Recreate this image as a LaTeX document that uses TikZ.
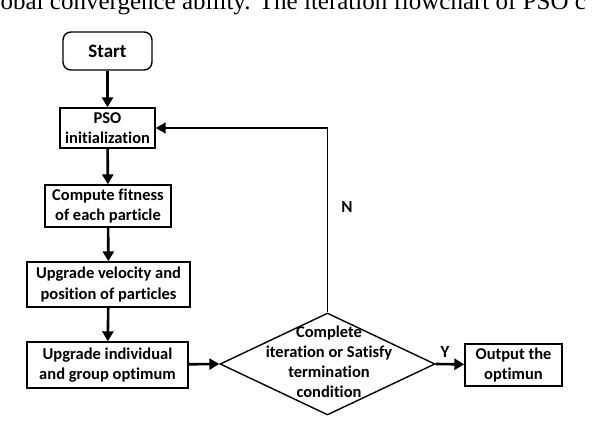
\documentclass[tikz,border=0pt]{standalone}
\usepackage{fontspec}
\setmainfont[Ligatures={NoCommon}]{Carlito}
\newfontfamily\toptextfont{Liberation Serif}
\usetikzlibrary{arrows.meta,shapes.geometric}
\begin{document}
\begin{tikzpicture}[x=1pt,y=-1pt,
  box/.style={draw,line width=1.4pt,inner sep=0pt,align=center,font=\bfseries\fontsize{16.5}{20.5}\selectfont},
  flow/.style={line width=2.6pt,-{Triangle[length=10pt,width=11pt]}},
  thin flow/.style={line width=1.6pt,-{Triangle[length=10pt,width=11pt]}},
  lbl/.style={font=\bfseries\fontsize{17}{20}\selectfont,inner sep=0pt}]
\useasboundingbox (0,0) rectangle (596,422);
\begin{scope}
\clip (0,0) rectangle (596,422);
\node[anchor=base west,inner sep=0pt,font=\toptextfont\fontsize{25}{30}\selectfont] (top) at (-19,10) {global convergence ability. The iteration flowchart of PSO c};
\end{scope}
\node[box,rounded corners=8pt,minimum width=89pt,minimum height=38pt,font=\bfseries\fontsize{19}{22}\selectfont] (start) at (107.5,51) {Start};
\node[box,minimum width=95pt,minimum height=40pt] (init) at (107.5,128) {PSO\\initialization};
\node[box,minimum width=126pt,minimum height=42pt] (fit) at (108,206) {Compute fitness\\of each particle};
\node[box,minimum width=163pt,minimum height=45pt] (vel) at (108.5,284.5) {Upgrade velocity and\\position of particles};
\node[box,minimum width=161pt,minimum height=46pt] (opt) at (107.5,365) {Upgrade individual\\and group optimum};
\node[draw,diamond,line width=1.4pt,inner sep=0pt,minimum width=215pt,minimum height=102pt] (dec) at (327.5,364) {};
\node[align=center,inner sep=0pt,font=\bfseries\fontsize{16.5}{20}\selectfont] (dectext) at (329,362) {Complete\\iteration or Satisfy\\termination\\condition};
\node[box,minimum width=97pt,minimum height=42pt] (out) at (513.5,365) {Output the\\optimun};
\coordinate (corner) at (dec.north |- init.east);
\draw[flow] (start) -- (init);
\draw[flow] (init) -- (fit);
\draw[flow] (fit) -- (vel);
\draw[flow] (vel) -- (opt);
\draw[flow] (opt) -- (dec.west);
\draw[flow] (dec.east) -- (out);
\draw[thin flow] (dec.north) -- (corner) -- (init.east);
\node[lbl] (n) at (347,207) {N};
\node[lbl] (y) at (445,352) {Y};
\end{tikzpicture}
\end{document}
